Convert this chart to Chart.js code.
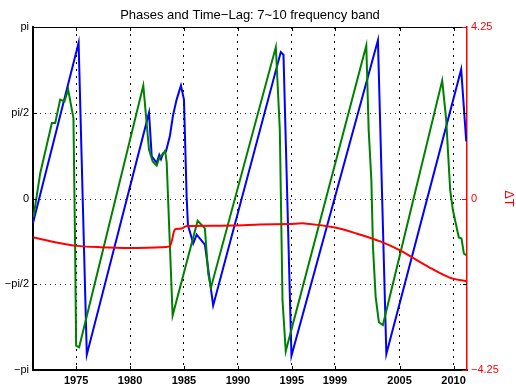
<!DOCTYPE html>
<html>
<head>
<meta charset="utf-8">
<script src="https://cdn.jsdelivr.net/npm/chart.js@4"></script>
<style>
  html, body { margin: 0; padding: 0; background: #fff; }
  #wrap { width: 516px; height: 386px; }
</style>
</head>
<body>
<div id="wrap"><canvas id="myChart" width="516" height="386"></canvas></div>
<script>
var PI = Math.PI;

// blue phase
var blueYears = [1971.0, 1975.23, 1975.99, 1981.76, 1982.01, 1982.47, 1982.71, 1982.87, 1983.08, 1983.33,
    1983.70, 1983.98, 1984.32, 1984.72, 1985.0, 1985.25, 1985.37, 1985.86, 1986.18, 1986.94,
    1987.71, 1993.98, 1994.23, 1994.97, 2002.99, 2003.77, 2010.71, 2011.18];
var bluePhase = [-0.451, 2.851, -2.860, 1.573, 0.773, 0.653, 0.800, 0.721, 0.831, 0.861,
    1.150, 1.518, 1.812, 2.070, 1.812, 0.028, -0.488, -0.824, -0.662, -0.846,
    -1.959, 2.682, 2.634, -2.879, 2.897, -2.847, 2.364, 1.045];

// green phase
var greenYears = [1971.05, 1971.67, 1972.75, 1973.06, 1973.52, 1973.92, 1974.26, 1974.75, 1974.91, 1975.0,
    1975.28, 1981.23, 1981.76, 1982.10, 1982.47, 1982.71, 1982.94, 1983.15, 1983.24, 1983.40,
    1983.70, 1983.95, 1986.27, 1986.94, 1987.25, 1987.50, 1993.52, 1993.89, 1994.14, 1994.26,
    1994.44, 2001.91, 2002.13, 2002.38, 2002.53, 2002.78, 2003.08, 2003.45, 2008.95, 2009.32,
    2009.69, 2009.94, 2010.49, 2010.74, 2010.96, 2011.18];
var greenPhase = [-0.335, 0.464, 1.383, 1.383, 1.812, 1.780, 1.996, 1.475, -0.947, -2.695,
    -2.726, 2.069, 0.892, 0.677, 0.603, 0.739, 0.800, 0.842, 0.892, 0.658,
    -0.887, -2.143, -0.408, -0.548, -1.376, -1.633, 2.774, 1.260, -1.867, -2.235,
    -2.800, 2.805, 1.260, 0.340, -0.887, -1.806, -2.266, -2.318, 2.161, 1.444,
    0.156, -0.212, -0.714, -0.732, -1.008, -1.039];

// time lag (right axis)
var lagYears = [1971.05, 1973.06, 1975.06, 1977.22, 1980.0, 1983.40, 1983.70, 1983.89, 1984.17, 1984.79,
    1985.25, 1989.56, 1992.04, 1994.81, 1996.20, 1999.0, 2001.0, 2003.15, 2005.0, 2007.78,
    2009.63, 2011.18];
var lagValues = [-0.965, -1.082, -1.174, -1.207, -1.224, -1.199, -1.182, -1.033, -0.766, -0.742,
    -0.684, -0.672, -0.647, -0.630, -0.618, -0.717, -0.866, -1.057, -1.281, -1.712,
    -1.961, -2.053];

var xTicks = [1975, 1980, 1985, 1990, 1995, 1999, 2005, 2010];
var phaseTicks = [-PI, -PI / 2, 0, PI / 2, PI];
var phaseLabels = ['\u2212pi', '\u2212pi/2', '0', 'pi/2', 'pi'];
var lagTicks = [-4.25, 0, 4.25];
var lagLabels = ['\u22124.25', '0', '4.25'];

function pts(xs, ys) {
    return xs.map(function (x, i) { return { x: x, y: ys[i] }; });
}

var FONT = "'Liberation Sans', Arial, sans-serif";

// title, dotted grid, top border and inward ticks
var extras = {
    id: 'extras',
    beforeDatasetsDraw: function (chart) {
        var c = chart.ctx, a = chart.chartArea;
        var sy = chart.scales.y;
        c.save();
        c.strokeStyle = '#333';
        c.lineWidth = 1;
        c.setLineDash([1, 4]);
        c.beginPath();
        [-PI / 2, 0, PI / 2].forEach(function (t) {
            var py = Math.round(sy.getPixelForValue(t)) + 0.5;
            c.moveTo(a.left + 2, py); c.lineTo(a.right, py);
        });
        c.stroke();
        c.restore();
    },
    afterDraw: function (chart) {
        var c = chart.ctx, a = chart.chartArea;
        var sx = chart.scales.x, sy = chart.scales.y, sy2 = chart.scales.y2;
        c.save();
        c.fillStyle = '#000';
        c.font = '13px ' + FONT;
        c.textAlign = 'center';
        c.textBaseline = 'alphabetic';
        c.fillText('Phases and Time\u2212Lag: 7~10 frequency band', (a.left + a.right) / 2, 18.5);

        c.strokeStyle = '#000';
        c.lineWidth = 1;
        c.beginPath();
        c.moveTo(a.left, a.top + 0.5);
        c.lineTo(a.right, a.top + 0.5);
        // x ticks bottom and top
        xTicks.forEach(function (t) {
            var px = Math.round(sx.getPixelForValue(t)) + 0.5;
            c.moveTo(px, a.bottom); c.lineTo(px, a.bottom - 4);
            c.moveTo(px, a.top); c.lineTo(px, a.top + 4);
        });
        // phase ticks left and right
        phaseTicks.forEach(function (t) {
            var py = Math.round(sy.getPixelForValue(t)) + 0.5;
            c.moveTo(a.left, py); c.lineTo(a.left + 4, py);
            c.moveTo(a.right, py); c.lineTo(a.right - 4, py);
        });
        c.stroke();

        c.strokeStyle = '#ff0000';
        c.beginPath();
        lagTicks.forEach(function (t) {
            var py = Math.round(sy2.getPixelForValue(t)) + 0.5;
            c.moveTo(a.right, py); c.lineTo(a.right - 5, py);
        });
        c.stroke();
        c.restore();
    }
};

var ctx = document.getElementById('myChart').getContext('2d');
var myChart = new Chart(ctx, {
    type: 'scatter',
    data: {
        datasets: [
            {
                label: 'lag',
                data: pts(lagYears, lagValues),
                yAxisID: 'y2',
                showLine: true,
                borderColor: '#ff0000',
                borderWidth: 2,
                pointRadius: 0,
                tension: 0.3,
                order: 0
            },
            {
                label: 'green',
                data: pts(greenYears, greenPhase),
                yAxisID: 'y',
                showLine: true,
                borderColor: '#008000',
                borderWidth: 2,
                pointRadius: 0,
                order: 1
            },
            {
                label: 'blue',
                data: pts(blueYears, bluePhase),
                yAxisID: 'y',
                showLine: true,
                borderColor: '#0000ff',
                borderWidth: 2,
                pointRadius: 0,
                order: 2
            }
        ]
    },
    options: {
        responsive: false,
        animation: false,
        events: [],
        layout: { padding: { top: 27, left: 0, right: 0, bottom: 0 } },
        plugins: {
            legend: { display: false },
            title: { display: false },
            tooltip: { enabled: false }
        },
        scales: {
            x: {
                type: 'linear',
                min: 1971,
                max: 2011.25,
                afterBuildTicks: function (s) { s.ticks = xTicks.map(function (v) { return { value: v }; }); },
                afterFit: function (s) { s.height = 16; },
                ticks: {
                    color: '#000',
                    font: { family: FONT, size: 11, weight: 'bold' },
                    padding: 4,
                    maxRotation: 0,
                    callback: function (v) { return String(v); }
                },
                grid: {
                    color: '#000',
                    lineWidth: 1,
                    drawTicks: false
                },
                border: { display: true, color: '#000', width: 2, dash: [2, 5] }
            },
            y: {
                position: 'left',
                min: -PI,
                max: PI,
                afterBuildTicks: function (s) { s.ticks = phaseTicks.map(function (v) { return { value: v }; }); },
                afterFit: function (s) { s.width = 33; },
                ticks: {
                    color: '#000',
                    font: { family: FONT, size: 11 },
                    padding: 4,
                    callback: function (v) {
                        var i = phaseTicks.indexOf(v);
                        return i >= 0 ? phaseLabels[i] : '';
                    }
                },
                grid: { drawOnChartArea: false, drawTicks: false },
                border: { display: true, color: '#000', width: 2 }
            },
            y2: {
                position: 'right',
                min: -4.25,
                max: 4.25,
                afterBuildTicks: function (s) { s.ticks = lagTicks.map(function (v) { return { value: v }; }); },
                afterFit: function (s) { s.width = 49; },
                ticks: {
                    color: '#ff0000',
                    font: { family: FONT, size: 11 },
                    padding: 4,
                    callback: function (v) {
                        var i = lagTicks.indexOf(v);
                        return i >= 0 ? lagLabels[i] : '';
                    }
                },
                grid: { drawOnChartArea: false, drawTicks: false },
                border: { display: true, color: '#ff0000', width: 1.5 },
                title: {
                    display: true,
                    text: '\u0394T',
                    color: '#ff0000',
                    font: { family: FONT, size: 13 },
                    padding: 0
                }
            }
        }
    },
    plugins: [extras]
});
</script>
</body>
</html>
